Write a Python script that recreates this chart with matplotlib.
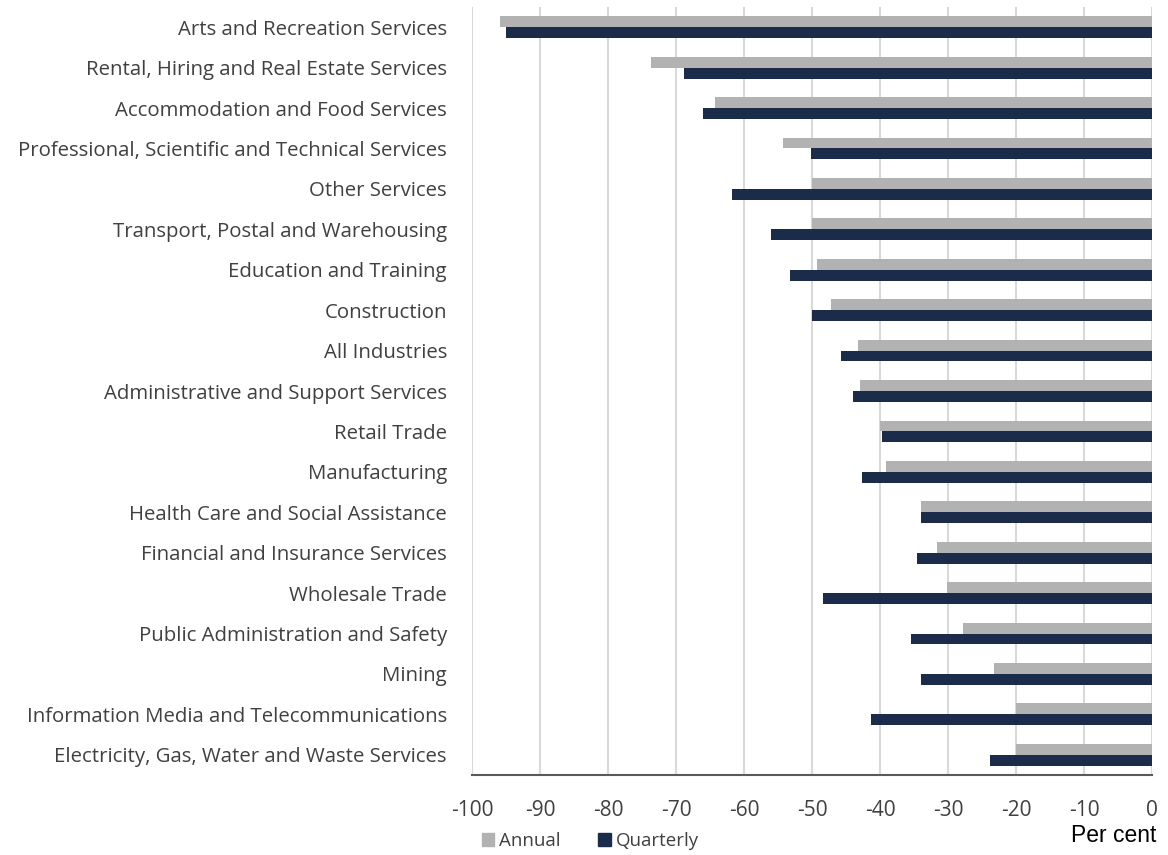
import matplotlib.pyplot as plt
import numpy as np
from matplotlib.patches import Patch

plt.rcParams['font.family'] = ['Open Sans', 'DejaVu Sans']
plt.rcParams['axes.unicode_minus'] = False

industries = [
    'Arts and Recreation Services',
    'Rental, Hiring and Real Estate Services',
    'Accommodation and Food Services',
    'Professional, Scientific and Technical Services',
    'Other Services',
    'Transport, Postal and Warehousing',
    'Education and Training',
    'Construction',
    'All Industries',
    'Administrative and Support Services',
    'Retail Trade',
    'Manufacturing',
    'Health Care and Social Assistance',
    'Financial and Insurance Services',
    'Wholesale Trade',
    'Public Administration and Safety',
    'Mining',
    'Information Media and Telecommunications',
    'Electricity, Gas, Water and Waste Services',
]
annual = [-95.9, -73.7, -64.3, -54.2, -50.0, -50.0, -49.3, -47.2, -43.2, -42.9,
          -40.0, -39.1, -34.0, -31.6, -30.1, -27.8, -23.2, -20.0, -20.0]
quarterly = [-95.0, -68.8, -66.0, -50.1, -61.7, -56.0, -53.2, -50.0, -45.7, -44.0,
             -39.7, -42.6, -34.0, -34.6, -48.4, -35.4, -34.0, -41.3, -23.8]

grey = '#b2b2b2'
navy = '#1b2c4b'

fig = plt.figure(figsize=(11.68, 8.55), dpi=100)
ax = fig.add_axes([472 / 1168, 80 / 855, 680 / 1168, 768 / 855])

y = np.arange(len(industries))
h = 0.27
ax.barh(y - h / 2, annual, height=h, color=grey, zorder=3)
ax.barh(y + h / 2, quarterly, height=h, color=navy, zorder=3)

ax.set_xlim(-100, 0)
ax.set_ylim(len(industries) - 0.5, -0.5)
ax.set_xticks(np.arange(-100, 1, 10))
ax.set_yticks(y)
ax.set_yticklabels(industries, fontsize=14.7, color='#404040')
ax.tick_params(axis='y', length=0, pad=18)
ax.tick_params(axis='x', length=0, pad=18, labelsize=15, labelcolor='#404040')
ax.grid(axis='x', color='#d9d9d9', linewidth=1.5, zorder=0)

for s in ['top', 'right', 'left']:
    ax.spines[s].set_visible(False)
ax.spines['bottom'].set_color('#595959')
ax.spines['bottom'].set_linewidth(1.5)

fig.text(1156 / 1168, 1 - 835 / 855, 'Per cent', ha='right', va='center',
         fontsize=16.5, family='Liberation Sans', color='black')

handles = [Patch(color=grey, label='Annual'), Patch(color=navy, label='Quarterly')]
fig.legend(handles=handles, loc='center left', bbox_to_anchor=(476 / 1168, 1 - 841 / 855),
           ncol=2, frameon=False, fontsize=13.5, handlelength=0.67, handleheight=0.67,
           handletextpad=0.26, columnspacing=2.0, labelcolor='#404040',
           borderaxespad=0, borderpad=0.3)

plt.savefig('out.png', dpi=100)
